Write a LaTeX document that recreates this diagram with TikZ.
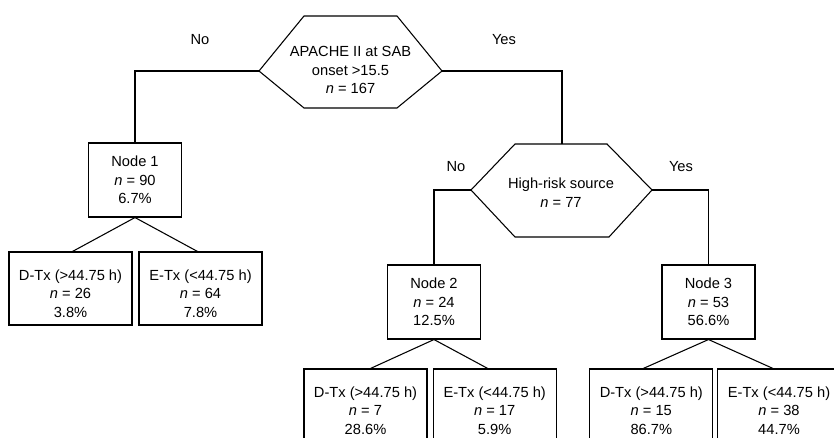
\documentclass[tikz,border=0pt]{standalone}
\usepackage{fontspec}
\setmainfont{Liberation Sans}
\usetikzlibrary{calc}
\begin{document}
\begin{tikzpicture}[x=0.75pt,y=-0.75pt,line width=0.8pt,
  txt/.style={align=center,inner sep=0pt,font=\fontsize{11}{13.8}\selectfont},
  lab/.style={inner sep=0pt,font=\fontsize{11}{13.8}\selectfont},
  nodebox/.style={draw,minimum width=69.75pt,minimum height=55.5pt,inner sep=0pt,align=center,font=\fontsize{11}{13.8}\selectfont},
  leafbox/.style={draw,minimum width=92.25pt,minimum height=54.75pt,inner sep=0pt}]
\useasboundingbox (0,0) rectangle (834,438);
\clip (0,0) rectangle (834,438);

% top decision
\coordinate (hAw) at (259,71);
\coordinate (hAnw) at (304,16);
\coordinate (hAne) at (397,16);
\coordinate (hAe) at (442,71);
\coordinate (hAse) at (397,108);
\coordinate (hAsw) at (304,108);
\draw (hAw) -- (hAnw) -- (hAne) -- (hAe) -- (hAse) -- (hAsw) -- cycle;
\node[txt] (hA) at (350.5,70) {APACHE II at SAB\\onset >15.5\\\textit{n} = 167};

% second decision
\coordinate (hBw) at (471,190);
\coordinate (hBnw) at (515,144);
\coordinate (hBne) at (607,144);
\coordinate (hBe) at (652,190);
\coordinate (hBse) at (609,237);
\coordinate (hBsw) at (515,237);
\coordinate (hBn) at (562,144);
\draw (hBw) -- (hBnw) -- (hBne) -- (hBe) -- (hBse) -- (hBsw) -- cycle;
\node[txt] (hB) at (561,192.5) {High-risk source\\\textit{n} = 77};

% labels
\node[lab] (noA) at (200,40) {No};
\node[lab] (yesA) at (504,40) {Yes};
\node[lab] (noB) at (456,167) {No};
\node[lab] (yesB) at (681,167) {Yes};

% intermediate nodes
\node[nodebox] (n1) at (135,180) {Node 1\\\textit{n} = 90\\6.7\%};
\node[nodebox] (n2) at (434,302) {Node 2\\\textit{n} = 24\\12.5\%};
\node[nodebox] (n3) at (708.5,302) {Node 3\\\textit{n} = 53\\56.6\%};

% leaves
\node[leafbox] (l1) at (70.5,288.5) {};
\node[txt] (t1) at ($(l1)+(0,5)$) {D-Tx (>44.75 h)\\\textit{n} = 26\\3.8\%};
\node[leafbox] (l2) at (200.5,288.5) {};
\node[txt] (t2) at ($(l2)+(0,5)$) {E-Tx (<44.75 h)\\\textit{n} = 64\\7.8\%};
\node[leafbox] (l3) at (365.5,405.5) {};
\node[txt] (t3) at ($(l3)+(0,5)$) {D-Tx (>44.75 h)\\\textit{n} = 7\\28.6\%};
\node[leafbox] (l4) at (494.7,405.5) {};
\node[txt] (t4) at ($(l4)+(0,5)$) {E-Tx (<44.75 h)\\\textit{n} = 17\\5.9\%};
\node[leafbox] (l5) at (651.3,405.5) {};
\node[txt] (t5) at ($(l5)+(0,5)$) {D-Tx (>44.75 h)\\\textit{n} = 15\\86.7\%};
\node[leafbox] (l6) at (779,405.5) {};
\node[txt] (t6) at ($(l6)+(0,5)$) {E-Tx (<44.75 h)\\\textit{n} = 38\\44.7\%};

% connectors
\draw (hAw) -| (n1.north);
\draw (hAe) -| (hBn);
\draw (hBw) -| (n2.north);
\draw (hBe) -| (n3.north);
\draw (n1.south) -- ($(l1.north)+(2,0)$);
\draw (n1.south) -- ($(l2.north)+(-3,0)$);
\draw (n2.south) -- ($(l3.north)+(5,0)$);
\draw (n2.south) -- ($(l4.north)+(-7,0)$);
\draw (n3.south) -- ($(l5.north)+(-8,0)$);
\draw (n3.south) -- ($(l6.north)+(-6,0)$);
\end{tikzpicture}
\end{document}
